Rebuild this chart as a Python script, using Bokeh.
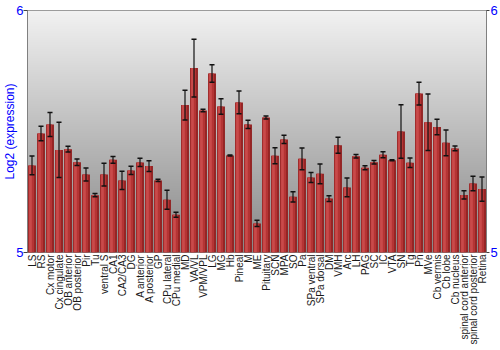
import math
import numpy as np
from bokeh.plotting import figure
from bokeh.models import ColumnDataSource, Range1d, LinearAxis, FixedTicker
from bokeh.embed import file_html
from bokeh.resources import INLINE

regions = ["LS", "RS", "Cx motor", "Cx cingulate", "OB anterior", "OB posterior",
           "Pir", "Tu", "ventral S", "CA1", "CA2/CA3", "DG", "A anterior",
           "A posterior", "GP", "CPu lateral", "CPu medial", "MD", "VA/VL",
           "VPM/VPL", "LG", "MG", "Hb", "Pineal", "M", "ME", "Pituitary", "SCN",
           "MPA", "SO", "Pa", "SPa ventral", "SPa dorsal", "DM", "VMH", "Arc",
           "LH", "PAG", "SC", "IC", "VTA", "SN", "Tg", "Pn", "MVe", "Cb vermis",
           "Cb lobe", "Cb nucleus", "spinal cord anterior",
           "spinal cord posterior", "Retina"]

expression = [5.360, 5.492, 5.529, 5.424, 5.427, 5.373, 5.322, 5.237, 5.322,
              5.383, 5.298, 5.339, 5.372, 5.357, 5.298, 5.218, 5.156, 5.609,
              5.762, 5.587, 5.740, 5.603, 5.401, 5.620, 5.529, 5.120, 5.558,
              5.400, 5.467, 5.230, 5.387, 5.310, 5.325, 5.223, 5.443, 5.269,
              5.398, 5.350, 5.373, 5.404, 5.381, 5.500, 5.371, 5.657, 5.538,
              5.519, 5.453, 5.430, 5.238, 5.285, 5.262]

error = [0.039, 0.030, 0.050, 0.114, 0.012, 0.013, 0.027, 0.007, 0.047, 0.014,
         0.038, 0.017, 0.017, 0.022, 0.005, 0.039, 0.010, 0.061, 0.119, 0.005,
         0.036, 0.032, 0.002, 0.047, 0.017, 0.013, 0.006, 0.033, 0.017, 0.021,
         0.045, 0.021, 0.041, 0.012, 0.033, 0.039, 0.007, 0.008, 0.007, 0.012,
         0.002, 0.111, 0.020, 0.047, 0.117, 0.032, 0.053, 0.010, 0.017, 0.030,
         0.050]

y_ticks = [5, 6]
y_title = "Log2 (expression)"

FONT = "Liberation Sans"
BLUE = "#0000ff"

ex = np.array(expression)
er = np.array(error)
pos = np.arange(1, len(regions) + 1)
cap = 0.28
src = ColumnDataSource(dict(pos=pos, top=ex, upper=ex + er, lower=ex - er,
                            pos_mid=pos - 0.07, pos_hi=pos - 0.17,
                            cap_l=pos - cap, cap_r=pos + cap))

p = figure(width=500, height=350, x_range=Range1d(0.5, len(regions) + 0.5),
           y_range=Range1d(5, 6), output_backend="svg", toolbar_location=None,
           min_border_left=0, min_border_right=0, min_border_top=10,
           min_border_bottom=98)
p.background_fill_color = "#ffffff"
p.border_fill_color = "#ffffff"
p.outline_line_color = "#808080"
p.xgrid.visible = False
p.ygrid.visible = False

# background gradient
n = 242
t = np.linspace(0, 1, n)  # 0 bottom -> 1 top
top_c = np.array([242, 242, 242])
bot_c = np.array([136, 136, 136])
cols = (bot_c[None, :] + (top_c - bot_c)[None, :] * t[:, None]).astype(np.uint8)
img = np.empty((n, 1), dtype=np.uint32)
view = img.view(dtype=np.uint8).reshape((n, 1, 4))
view[:, 0, 0] = cols[:, 0]
view[:, 0, 1] = cols[:, 1]
view[:, 0, 2] = cols[:, 2]
view[:, 0, 3] = 255
p.image_rgba(image=[img], x=0.5, y=5, dw=len(regions), dh=1)

# shaded bars
p.vbar(x="pos", top="top", bottom=5, width=0.88, source=src,
       fill_color="#922222", line_color=None)
p.vbar(x="pos_mid", top="top", bottom=5, width=0.62, source=src,
       fill_color="#b43434", line_color=None)
p.vbar(x="pos_hi", top="top", bottom=5, width=0.3, source=src,
       fill_color="#c94a4a", line_color=None)

# error bars
p.segment(x0="pos", x1="pos", y0="lower", y1="upper", source=src,
          line_color="#111111", line_width=1.2)
p.segment(x0="cap_l", x1="cap_r", y0="upper", y1="upper", source=src,
          line_color="#111111", line_width=1.5)
p.segment(x0="cap_l", x1="cap_r", y0="lower", y1="lower", source=src,
          line_color="#111111", line_width=1.5)

# axes
yl = p.yaxis[0]
yl.ticker = FixedTicker(ticks=y_ticks)
yl.minor_tick_line_color = None
yl.major_tick_in = 0
yl.major_tick_out = 4
yl.axis_line_color = "#808080"
yl.major_tick_line_color = "#404040"
yl.major_label_text_color = BLUE
yl.major_label_text_font = FONT
yl.major_label_text_font_size = "13px"
yl.major_label_standoff = 0
yl.axis_label = y_title
yl.axis_label_text_color = BLUE
yl.axis_label_text_font = FONT
yl.axis_label_text_font_size = "12px"
yl.axis_label_text_font_style = "normal"
yl.axis_label_standoff = -4

yr = LinearAxis(ticker=FixedTicker(ticks=y_ticks))
yr.minor_tick_line_color = None
yr.major_tick_in = 0
yr.major_tick_out = 3
yr.axis_line_color = "#808080"
yr.major_tick_line_color = "#404040"
yr.major_label_text_color = BLUE
yr.major_label_text_font = FONT
yr.major_label_text_font_size = "13px"
yr.major_label_standoff = 1
p.add_layout(yr, "right")

xa = p.xaxis[0]
xa.ticker = FixedTicker(ticks=[int(v) for v in pos])
xa.major_label_overrides = {int(v): name for v, name in zip(pos, regions)}
xa.axis_line_color = None
xa.major_tick_line_color = None
xa.minor_tick_line_color = None
xa.major_tick_out = 0
xa.major_label_orientation = math.pi / 2
xa.major_label_text_font = FONT
xa.major_label_text_font_size = "10px"
xa.major_label_text_color = "#1a1a1a"
xa.major_label_standoff = 2

open("out.html", "w").write(file_html(p, INLINE))
